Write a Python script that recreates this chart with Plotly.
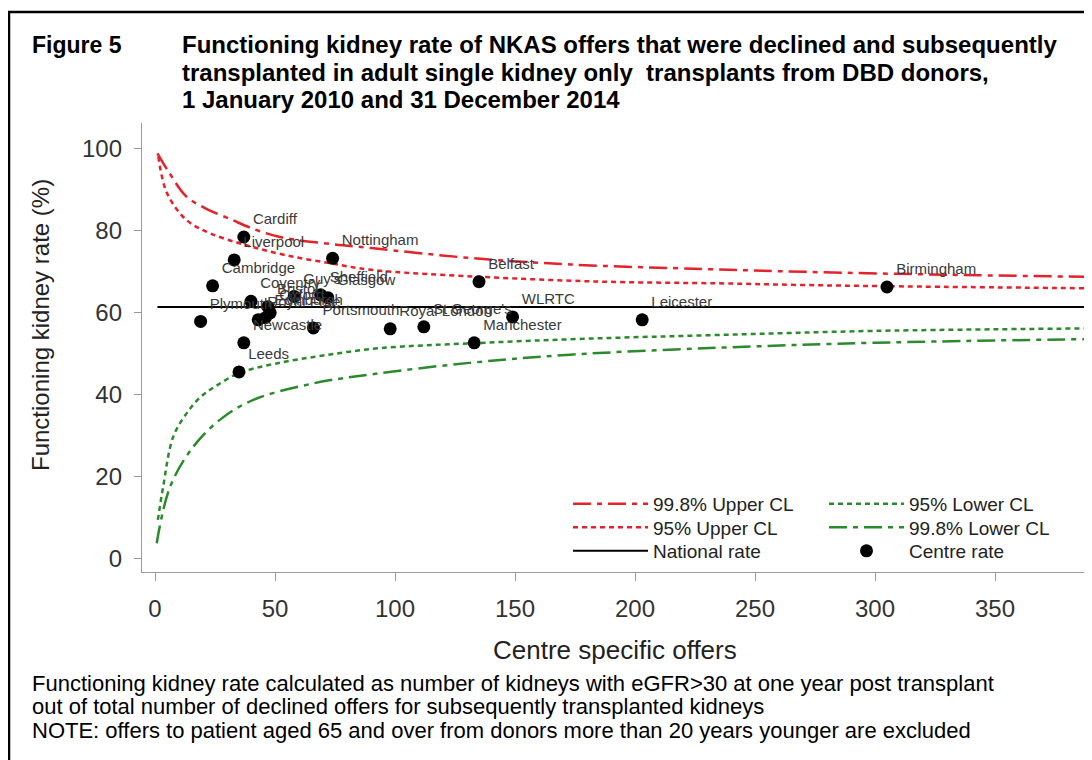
import plotly.graph_objects as go

# ---------------- data ----------------
centres = ["Cardiff", "Liverpool", "Nottingham", "Cambridge", "Plymouth", "Coventry",
           "Leeds", "Newcastle", "Guy's", "Sheffield", "Glasgow", "Bristol", "Oxford",
           "Royal Free", "Edinburgh", "Portsmouth", "Royal London", "St George's",
           "Manchester", "WLRTC", "Leicester", "Belfast", "Birmingham"]
offers = [37, 33, 74, 24, 19, 40, 35, 37, 58, 69, 72, 47, 48, 43, 46, 66, 98, 112,
          133, 149, 203, 135, 305]
rates = [78.5, 72.9, 73.3, 66.6, 57.9, 62.8, 45.6, 52.7, 64.0, 64.4, 63.7, 61.5, 60.0,
         58.3, 58.8, 56.3, 56.1, 56.6, 52.7, 59.0, 58.3, 67.6, 66.3]

national_rate = 61.4
national_n = [1, 388]

u998_n = [1, 6, 13, 21, 32, 40, 52, 73, 90, 131, 173, 228, 271, 330, 388]
u998_y = [98.9, 94.1, 88.4, 85.5, 82.7, 80.7, 78.5, 76.8, 75.8, 73.4, 71.8, 70.7, 70.0, 69.3, 68.8]

u95_n = [1.4, 5, 13, 23, 38, 55, 74, 90, 135, 187, 235, 269, 305, 388]
u95_y = [98.1, 89.2, 82.7, 79.4, 76.5, 74.0, 72.0, 70.5, 68.8, 67.6, 67.2, 66.8, 66.5, 66.0]

l95_n = [1.2, 3.4, 7.6, 13.3, 19, 25, 35, 50, 70, 94, 133, 180, 235, 300, 388]
l95_y = [9.5, 17.6, 29.8, 35.6, 39.5, 42.0, 45.3, 47.6, 49.6, 51.4, 52.6, 53.7, 54.6, 55.6, 56.2]

l998_n = [0.7, 6.3, 16, 27, 41, 66, 90, 131, 173, 235, 300, 388]
l998_y = [3.8, 17.6, 27.4, 33.9, 38.8, 42.8, 45.0, 47.8, 49.8, 51.5, 52.7, 53.6]

x_ticks = [0, 50, 100, 150, 200, 250, 300, 350]
y_ticks = [0, 20, 40, 60, 80, 100]

title_lines = ["Functioning kidney rate of NKAS offers that were declined and subsequently",
               "transplanted in adult single kidney only  transplants from DBD donors,",
               "1 January 2010 and 31 December 2014"]
footer_lines = ["Functioning kidney rate calculated as number of kidneys with eGFR>30 at one year post transplant",
                "out of total number of declined offers for subsequently transplanted kidneys",
                "NOTE: offers to patient aged 65 and over from donors more than 20 years younger are excluded"]

# ---------------- styling helpers ----------------
OFF = 8                     # page body margin of the browser
W, H = 1092 - OFF, 760 - OFF
L, R, T, B = 142, 1085, 123, 572   # plot area in screen pixels
RED = "#e3222b"
GREEN = "#2b8a2b"
DASHDOT = "18px,6px,5px,6px"
DOT = "5px,4px"
FONT = "Liberation Sans, Arial, sans-serif"


def px(x):
    return (x - L) / (R - L)


def py(y):
    return (B - y) / (B - T)


fig = go.Figure()

fig.add_trace(go.Scatter(x=u998_n, y=u998_y, mode="lines", name="99.8% Upper CL",
                         line=dict(color=RED, width=2.5, dash=DASHDOT, shape="spline"),
                         legend="legend", showlegend=True))
fig.add_trace(go.Scatter(x=u95_n, y=u95_y, mode="lines", name="95% Upper CL",
                         line=dict(color=RED, width=2.5, dash=DOT, shape="spline"),
                         legend="legend2", showlegend=True))
fig.add_trace(go.Scatter(x=national_n, y=[national_rate] * len(national_n), mode="lines",
                         name="National rate", line=dict(color="black", width=2),
                         legend="legend3", showlegend=True))
fig.add_trace(go.Scatter(x=l95_n, y=l95_y, mode="lines", name="95% Lower CL",
                         line=dict(color=GREEN, width=2.5, dash=DOT, shape="spline"),
                         legend="legend4", showlegend=True))
fig.add_trace(go.Scatter(x=l998_n, y=l998_y, mode="lines", name="99.8% Lower CL",
                         line=dict(color=GREEN, width=2.5, dash=DASHDOT, shape="spline"),
                         legend="legend5", showlegend=True))
fig.add_trace(go.Scatter(x=offers, y=rates, mode="markers+text", name="Centre rate",
                         text=centres, textposition="top right",
                         textfont=dict(size=15, color="#3a3a3a", family=FONT),
                         marker=dict(color="black", size=13),
                         legend="legend6", showlegend=True))

axis_common = dict(showline=True, linecolor="#9a9a9a", linewidth=1.3, ticks="outside",
                   tickcolor="#9a9a9a", tickwidth=1.3, showgrid=False, zeroline=False,
                   tickfont=dict(size=24, color="#333333", family=FONT))

fig.update_xaxes(range=[-5.42, 387.5], tickvals=x_ticks, ticklen=8,
                 ticklabelstandoff=7, **axis_common)
fig.update_yaxes(range=[-3.2, 106.3], tickvals=y_ticks, ticklen=7,
                 ticklabelstandoff=7, **axis_common)

legend_common = dict(font=dict(size=19, color="#222222", family=FONT), bgcolor="rgba(0,0,0,0)",
                     xanchor="left", yanchor="middle", itemwidth=75, visible=True)
rows = [504, 527.5, 551]
col1, col2 = 568, 824
fig.update_layout(
    showlegend=True,
    legend=dict(x=px(col1), y=py(rows[0]), **legend_common),
    legend2=dict(x=px(col1), y=py(rows[1]), **legend_common),
    legend3=dict(x=px(col1), y=py(rows[2]), **legend_common),
    legend4=dict(x=px(col2), y=py(rows[0]), **legend_common),
    legend5=dict(x=px(col2), y=py(rows[1]), **legend_common),
    legend6=dict(x=px(col2), y=py(rows[2]), **legend_common),
)

annotations = []
annotations.append(dict(x=px(30), y=py(45), text="<b>Figure 5</b>", showarrow=False,
                        xref="paper", yref="paper", xanchor="left", yanchor="middle",
                        font=dict(size=23, color="black", family=FONT)))
for i, line in enumerate(title_lines):
    annotations.append(dict(x=px(180), y=py(45 + 27 * i), text="<b>" + line + "</b>",
                            showarrow=False, xref="paper", yref="paper", xanchor="left",
                            yanchor="middle", font=dict(size=24, color="black", family=FONT)))
for i, line in enumerate(footer_lines):
    annotations.append(dict(x=px(30), y=py(683 + 23.5 * i), text=line, showarrow=False,
                            xref="paper", yref="paper", xanchor="left", yanchor="middle",
                            font=dict(size=22, color="black", family=FONT)))
annotations.append(dict(x=px(615), y=py(650), text="Centre specific offers", showarrow=False,
                        xref="paper", yref="paper", xanchor="center", yanchor="middle",
                        font=dict(size=26, color="#222222", family=FONT)))
annotations.append(dict(x=px(40), y=py(325), text="Functioning kidney rate (%)",
                        showarrow=False, textangle=-90, xref="paper", yref="paper",
                        xanchor="center", yanchor="middle",
                        font=dict(size=24, color="#222222", family=FONT)))

fig.update_layout(
    width=W, height=H,
    margin=dict(l=L - OFF, r=W - (R - OFF), t=T - OFF, b=H - (B - OFF)),
    paper_bgcolor="white", plot_bgcolor="white",
    annotations=annotations,
    shapes=[dict(type="rect", xref="paper", yref="paper", x0=px(OFF + 1), x1=px(1300),
                 y0=py(1000), y1=py(12), line=dict(color="black", width=2.5),
                 layer="below")],
    font=dict(family=FONT),
)

fig.write_html("out.html")
